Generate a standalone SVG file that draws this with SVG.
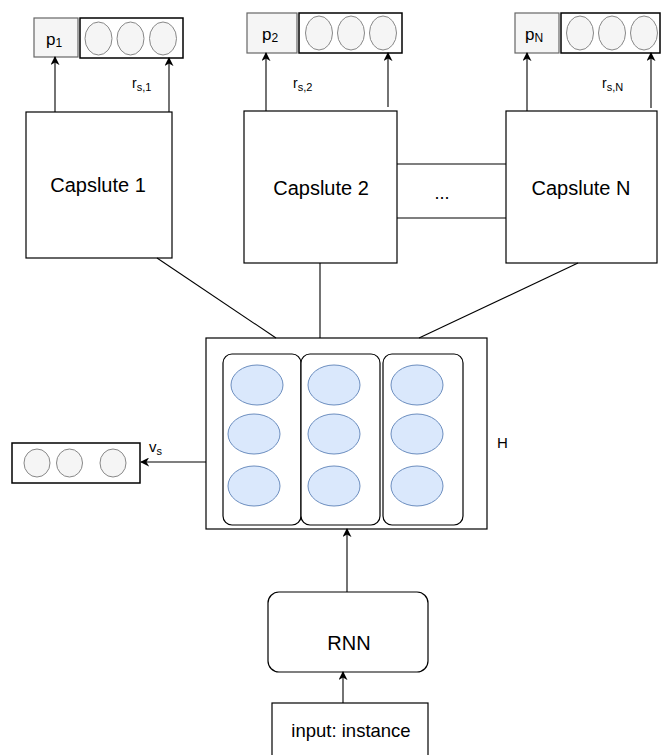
<svg xmlns="http://www.w3.org/2000/svg" width="662" height="755" viewBox="0 0 662 755">
<style>
.box{fill:#fff;stroke:#000;stroke-width:1.2}
.pbox{fill:#f5f5f5;stroke:#666;stroke-width:1.2}
.vbox{fill:#fff;stroke:#000;stroke-width:1.5}
.gc{fill:#f5f5f5;stroke:#888;stroke-width:1}
.bc{fill:#dae8fc;stroke:#6c8ebf;stroke-width:1}
.col{fill:#fff;stroke:#000;stroke-width:1.2}
.ln{fill:none;stroke:#000;stroke-width:1.1}
.t{font-family:"Liberation Sans",Arial,sans-serif;fill:#000}
</style>
<defs>
<marker id="arr" viewBox="0 0 10 10" refX="9" refY="5" markerWidth="9" markerHeight="9" markerUnits="userSpaceOnUse" orient="auto">
<path d="M0,0 L10,5 L0,10 L3,5 Z" fill="#000"/>
</marker>
</defs>
<rect width="662" height="755" fill="#fff"/>

<g id="out1">
<rect class="pbox" x="34" y="18" width="44" height="39"/>
<text class="t" x="46" y="45" font-size="17">p<tspan font-size="12" dy="2">1</tspan></text>
<rect class="vbox" x="80" y="18" width="103" height="40"/>
<ellipse class="gc" cx="98.5" cy="38.5" rx="13.5" ry="16.5"/>
<ellipse class="gc" cx="130.5" cy="38.5" rx="13.5" ry="16.5"/>
<ellipse class="gc" cx="163" cy="38.5" rx="13.5" ry="16.5"/>
</g>
<g id="out2">
<rect class="pbox" x="247" y="13" width="50" height="40"/>
<text class="t" x="262" y="40" font-size="17">p<tspan font-size="12" dy="2">2</tspan></text>
<rect class="vbox" x="299" y="13" width="103" height="40"/>
<ellipse class="gc" cx="319" cy="33" rx="13.5" ry="17"/>
<ellipse class="gc" cx="351" cy="33" rx="13.5" ry="17"/>
<ellipse class="gc" cx="383" cy="33" rx="13.5" ry="17"/>
</g>
<g id="outN">
<rect class="pbox" x="515" y="13" width="44" height="40"/>
<text class="t" x="525" y="40" font-size="17">p<tspan font-size="12" dy="2">N</tspan></text>
<rect class="vbox" x="561" y="13" width="99" height="40"/>
<ellipse class="gc" cx="580" cy="33" rx="13.5" ry="17"/>
<ellipse class="gc" cx="612" cy="33" rx="13.5" ry="17"/>
<ellipse class="gc" cx="644" cy="33" rx="13.5" ry="17"/>
</g>

<g id="cap1">
<rect class="box" x="26" y="112" width="146" height="146"/>
<text class="t" x="98" y="192" font-size="20" text-anchor="middle">Capslute 1</text>
</g>
<g id="cap2">
<rect class="box" x="244" y="111" width="153" height="152"/>
<text class="t" x="321" y="195" font-size="20" text-anchor="middle">Capslute 2</text>
</g>
<g id="capN">
<rect class="box" x="506" y="111" width="151" height="152"/>
<text class="t" x="581" y="195" font-size="20" text-anchor="middle">Capslute N</text>
</g>
<g id="dots">
<text class="t" x="442" y="199" font-size="18" text-anchor="middle">...</text>
</g>

<g id="H">
<rect class="box" x="206" y="338" width="281" height="191"/>
<rect class="col" x="223" y="354" width="78" height="171" rx="9"/>
<rect class="col" x="301" y="354" width="79" height="171" rx="9"/>
<rect class="col" x="383" y="354" width="80" height="171" rx="9"/>
<ellipse class="bc" cx="257" cy="385" rx="26" ry="20"/>
<ellipse class="bc" cx="254" cy="434" rx="26" ry="20"/>
<ellipse class="bc" cx="254" cy="486" rx="26" ry="20"/>
<ellipse class="bc" cx="334" cy="385" rx="26" ry="20"/>
<ellipse class="bc" cx="334" cy="434" rx="26" ry="20"/>
<ellipse class="bc" cx="334" cy="486" rx="26" ry="20"/>
<ellipse class="bc" cx="417" cy="385" rx="26" ry="20"/>
<ellipse class="bc" cx="417" cy="434" rx="26" ry="20"/>
<ellipse class="bc" cx="417" cy="486" rx="26" ry="20"/>
<text class="t" x="497" y="448" font-size="15">H</text>
</g>

<g id="vs">
<rect class="vbox" x="12" y="443" width="128" height="40"/>
<ellipse class="gc" cx="37" cy="463" rx="13" ry="14"/>
<ellipse class="gc" cx="69.5" cy="463" rx="13" ry="14"/>
<ellipse class="gc" cx="113" cy="463" rx="13" ry="14"/>
</g>

<g id="rnn">
<rect class="box" x="268" y="592" width="160" height="80" rx="11"/>
<text class="t" x="349" y="650" font-size="20" text-anchor="middle">RNN</text>
</g>
<g id="input">
<rect class="box" x="272" y="703" width="156" height="60"/>
<text class="t" x="351" y="737" font-size="18.5" text-anchor="middle">input: instance</text>
</g>

<g id="connectors">
<line class="ln" x1="55" y1="112" x2="55" y2="57" marker-end="url(#arr)"/>
<line class="ln" x1="169" y1="112" x2="169" y2="58" marker-end="url(#arr)"/>
<line class="ln" x1="266" y1="111" x2="266" y2="53" marker-end="url(#arr)"/>
<line class="ln" x1="388" y1="107" x2="388" y2="53" marker-end="url(#arr)"/>
<line class="ln" x1="527" y1="111" x2="527" y2="53" marker-end="url(#arr)"/>
<line class="ln" x1="651" y1="108" x2="651" y2="53" marker-end="url(#arr)"/>
<text class="t" x="132" y="88" font-size="14">r<tspan font-size="11" dy="3">s,1</tspan></text>
<text class="t" x="293" y="88" font-size="14">r<tspan font-size="11" dy="3">s,2</tspan></text>
<text class="t" x="602" y="88" font-size="14">r<tspan font-size="11" dy="3">s,N</tspan></text>
<line class="ln" x1="397" y1="164" x2="506" y2="164"/>
<line class="ln" x1="397" y1="218" x2="506" y2="218"/>
<line class="ln" x1="157" y1="258" x2="276" y2="338"/>
<line class="ln" x1="320" y1="263" x2="320" y2="338"/>
<line class="ln" x1="578" y1="263" x2="419" y2="338"/>
<line class="ln" x1="206" y1="462" x2="141" y2="462" marker-end="url(#arr)"/>
<text class="t" x="149" y="452" font-size="15">v<tspan font-size="11" dy="3">s</tspan></text>
<line class="ln" x1="347" y1="592" x2="347" y2="529" marker-end="url(#arr)"/>
<line class="ln" x1="343" y1="703" x2="343" y2="672" marker-end="url(#arr)"/>
</g>
</svg>
